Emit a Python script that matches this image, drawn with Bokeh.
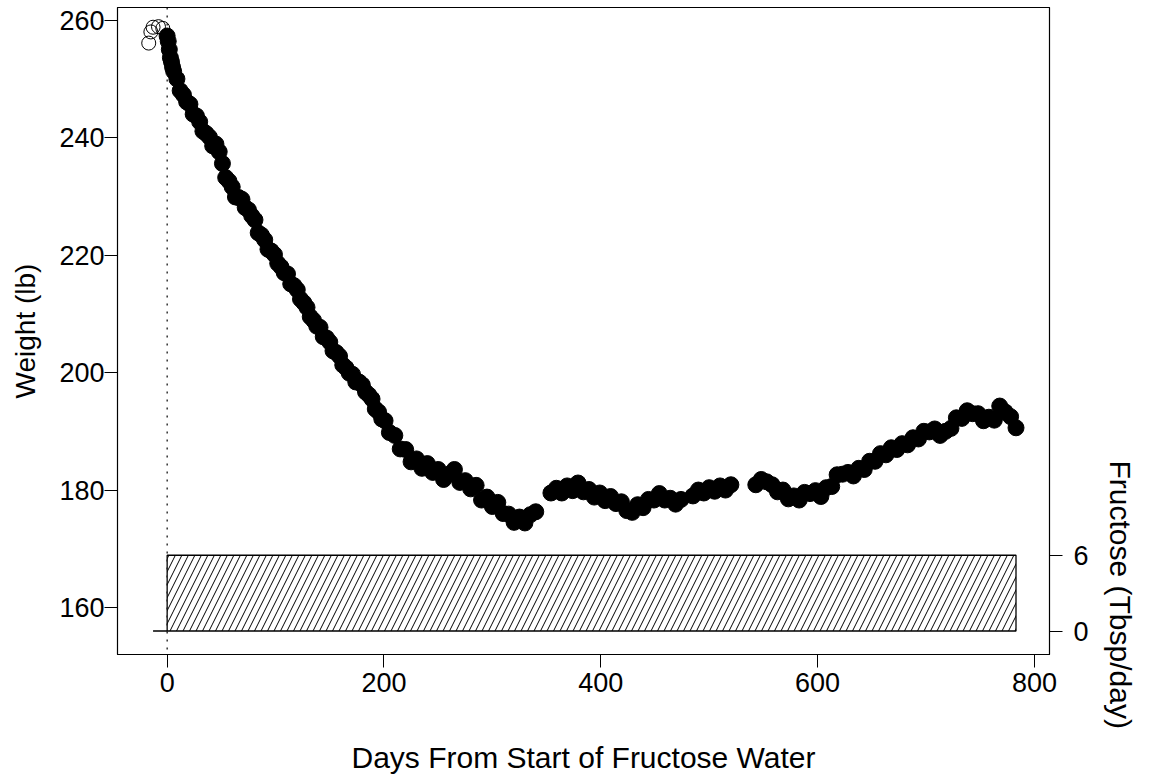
from bokeh.plotting import figure
from bokeh.models import Range1d, LinearAxis, FixedTicker, Span, Title
from bokeh.embed import file_html
from bokeh.resources import INLINE

# ---- data ----
pre_days = [-17, -15, -13, -8, -4]
pre_weight = [256.1, 258.0, 258.8, 258.9, 258.6]

days_a = [0, 1, 2, 3, 4, 5] + list(range(6, 202, 3))
weight_a = [257.3, 256.4, 255.0, 253.6, 252.9, 252.0,
            251.3, 250.0, 248.0, 247.3, 246.1, 245.7, 244.0, 243.7, 242.7, 241.1,
            240.7, 240.1, 238.6, 238.9, 237.6, 235.6, 233.2, 232.6, 231.6, 229.9,
            229.8, 229.5, 228.1, 227.7, 226.7, 226.0, 223.8, 223.4, 222.6, 221.0,
            220.7, 220.1, 218.6, 218.0, 217.0, 216.8, 215.1, 214.8, 214.1, 212.5,
            211.9, 211.1, 209.5, 208.9, 207.9, 207.7, 206.1, 205.9, 205.2, 203.7,
            203.4, 202.8, 201.3, 200.8, 199.9, 199.7, 198.4, 198.4, 197.9, 196.7,
            196.2, 195.5, 193.8, 193.3, 192.1, 191.8]

days_b = list(range(205, 341, 5))
weight_b = [189.8, 189.3, 187.0, 186.9, 184.8, 185.3, 183.7, 184.5, 183.0, 183.5,
            181.8, 182.7, 183.5, 181.3, 181.6, 180.2, 180.8, 178.3, 178.8, 177.2,
            177.9, 176.0, 175.9, 174.5, 175.4, 174.4, 175.8, 176.3]

days_c = list(range(354, 475, 5))
weight_c = [179.5, 180.3, 179.5, 180.7, 179.9, 181.2, 179.7, 180.1, 178.8, 179.5,
            178.2, 178.9, 177.7, 178.0, 176.5, 176.2, 177.5, 177.0, 178.4, 178.3,
            179.4, 178.3, 178.6, 177.6, 178.4]

days_d = list(range(485, 521, 5))
weight_d = [179.0, 180.0, 179.5, 180.4, 179.8, 180.7, 180.0, 180.9]

days_e = list(range(543, 784, 5))
weight_e = [180.9, 181.8, 181.4, 180.9, 179.7, 180.0, 178.5, 179.0, 178.3, 179.6,
            179.4, 179.9, 178.9, 180.4, 180.6, 182.6, 182.7, 183.0, 182.4, 183.7,
            183.5, 184.9, 184.9, 186.2, 186.0, 187.2, 186.9, 187.9, 187.7, 188.9,
            188.7, 190.0, 189.9, 190.4, 189.3, 190.0, 190.5, 192.3, 192.2, 193.5,
            193.0, 193.0, 191.8, 192.4, 191.9, 194.3, 193.3, 192.5, 190.6]

fruct_start = [-13, 0]
fruct_end = [0, 783]
fruct_level = [0, 6]

x_ticks = [0, 200, 400, 600, 800]
y_ticks = [160, 180, 200, 220, 240, 260]
fr_ticks = [0, 6]

days = days_a + days_b + days_c + days_d + days_e
weights = weight_a + weight_b + weight_c + weight_d + weight_e

FONT = "Liberation Sans"

p = figure(width=1152, height=776, output_backend="svg", toolbar_location=None,
           x_range=Range1d(-45.8, 813.9), y_range=Range1d(152.0, 262.16),
           min_border_left=117, min_border_right=103, min_border_top=7,
           min_border_bottom=121)
p.grid.visible = False
p.outline_line_color = "black"
p.outline_line_width = 1.2
p.background_fill_color = "white"
p.border_fill_color = "white"

p.extra_y_ranges = {"fr": Range1d(-1.86, 49.38)}

for ax in (p.xaxis[0], p.yaxis[0]):
    ax.major_tick_out = 13
    ax.major_tick_in = 0
    ax.minor_tick_out = 0
    ax.minor_tick_in = 0
    ax.axis_line_color = "black"
    ax.major_tick_line_color = "black"
    ax.major_label_text_font = FONT
    ax.major_label_text_font_size = "27px"
    ax.major_label_text_color = "black"
    ax.axis_label_text_font = FONT
    ax.axis_label_text_font_style = "normal"
    ax.axis_label_text_color = "black"

p.xaxis.axis_label_text_font_size = "30px"
p.yaxis.axis_label_text_font_size = "28px"
p.xaxis.ticker = FixedTicker(ticks=x_ticks)
p.yaxis.ticker = FixedTicker(ticks=y_ticks)
p.xaxis.axis_label = "Days From Start of Fructose Water"
p.yaxis.axis_label = "Weight (lb)"
p.xaxis.major_label_standoff = 5
p.xaxis.axis_label_standoff = 46
p.yaxis.major_label_standoff = 0
p.yaxis.axis_label_standoff = 15

rax = LinearAxis(y_range_name="fr", ticker=FixedTicker(ticks=fr_ticks))
rax.major_tick_out = 13
rax.major_tick_in = 0
rax.minor_tick_out = 0
rax.minor_tick_in = 0
rax.axis_line_color = "black"
rax.major_label_text_font = FONT
rax.major_label_text_font_size = "27px"
rax.major_label_text_color = "black"
rax.major_label_standoff = 11
p.add_layout(rax, "right")

rtitle = Title(text="Fructose (Tbsp/day)", align="left", offset=453,
               text_font=FONT, text_font_size="30px", text_font_style="normal",
               text_color="black", standoff=24)
p.add_layout(rtitle, "right")

vline = Span(location=0, dimension="height", line_color="black", line_width=1.2,
             line_dash="2 6", level="underlay")
p.add_layout(vline)

p.quad(left=fruct_start, right=fruct_end, bottom=[0, 0], top=fruct_level,
       y_range_name="fr", fill_color="white", line_color="black", line_width=1.3,
       hatch_pattern="/", hatch_color="black", hatch_scale=13, hatch_weight=1)

p.scatter(pre_days, pre_weight, size=14, marker="circle", fill_alpha=0,
          line_color="black", line_width=1)
p.scatter(days, weights, size=16, marker="circle", fill_color="black",
          line_color="black")

open("out.html", "w").write(file_html(p, INLINE))
